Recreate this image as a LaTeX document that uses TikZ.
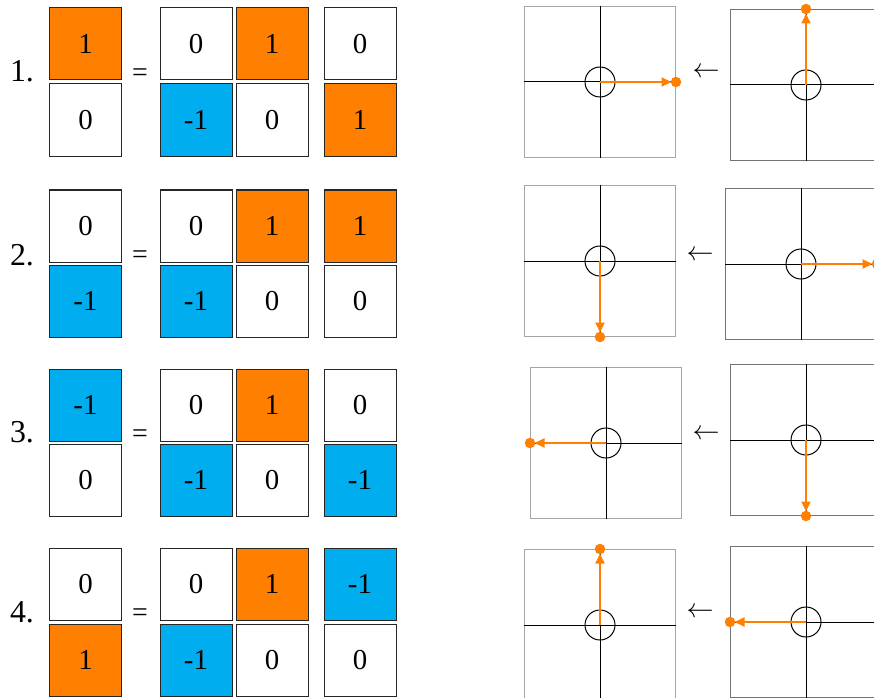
\documentclass[tikz,border=0pt]{standalone}
\usepackage{fontspec}
\setmainfont{Liberation Serif}
\usetikzlibrary{arrows.meta}
\definecolor{cellorange}{RGB}{255,128,0}
\definecolor{cellblue}{RGB}{0,174,239}
\tikzset{every picture/.style={line width=1bp}}
\newcommand{\backarrow}{\resizebox{27bp}{!}{$\leftarrow$}}
\begin{document}
\begin{tikzpicture}[x=1bp,y=1bp,yscale=-1,xscale=1,
	cell/.style={draw=black!85, minimum size=72bp, inner sep=0pt, font=\fontsize{29}{29}\selectfont},
	ones/.style={cell, fill=cellorange},
	mones/.style={cell, fill=cellblue},
	rowlabel/.style={inner sep=0pt, font=\fontsize{32}{32}\selectfont},
	eqsign/.style={inner sep=0pt, anchor=base, font=\fontsize{28}{28}\selectfont},
	back/.style={inner sep=0pt},
	panel/.style={draw=black!35, minimum size=151bp, inner sep=0pt},
	panelr/.style={panel, draw=black!55},
	hub/.style={circle, draw=black, minimum size=30bp, inner sep=0pt},
	tipdot/.style={circle, fill=cellorange, minimum size=10.5bp, inner sep=0pt},
	vec/.style={draw=cellorange, line width=2bp, -{Triangle[length=10bp,width=9bp]}, shorten >=4.5bp}]
	\useasboundingbox (0,0) rectangle (874,698);
	\clip (0,0) rectangle (874,698);

	%Row 1
	\node [rowlabel] (n1) at (22,71) {1.};
	\node [ones] (l1t) at (85.5,44) {1};
	\node [cell] (l1b) at (85.5,120) {0};
	\node [eqsign] (eq1) at (140,82) {=};
	\node [cell] (m1a) at (196,44) {0};
	\node [ones] (m1b) at (272,44) {1};
	\node [mones] (m1c) at (196,120) {-1};
	\node [cell] (m1d) at (272,120) {0};
	\node [cell] (r1t) at (360,44) {0};
	\node [ones] (r1b) at (360,120) {1};

	%Row 2
	\node [rowlabel] (n2) at (22,255) {2.};
	\node [cell] (l2t) at (85.5,226) {0};
	\node [mones] (l2b) at (85.5,301) {-1};
	\node [eqsign] (eq2) at (140,263) {=};
	\node [cell] (m2a) at (196,226) {0};
	\node [ones] (m2b) at (272,226) {1};
	\node [mones] (m2c) at (196,301) {-1};
	\node [cell] (m2d) at (272,301) {0};
	\node [ones] (r2t) at (360,226) {1};
	\node [cell] (r2b) at (360,301) {0};

	%Row 3
	\node [rowlabel] (n3) at (22,432) {3.};
	\node [mones] (l3t) at (85.5,405) {-1};
	\node [cell] (l3b) at (85.5,480) {0};
	\node [eqsign] (eq3) at (140,442) {=};
	\node [cell] (m3a) at (196,405) {0};
	\node [ones] (m3b) at (272,405) {1};
	\node [mones] (m3c) at (196,480) {-1};
	\node [cell] (m3d) at (272,480) {0};
	\node [cell] (r3t) at (360,405) {0};
	\node [mones] (r3b) at (360,480) {-1};

	%Row 4
	\node [rowlabel] (n4) at (22,612) {4.};
	\node [cell] (l4t) at (85.5,584) {0};
	\node [ones] (l4b) at (85.5,660) {1};
	\node [eqsign] (eq4) at (140,621) {=};
	\node [cell] (m4a) at (196,584) {0};
	\node [ones] (m4b) at (272,584) {1};
	\node [mones] (m4c) at (196,660) {-1};
	\node [cell] (m4d) at (272,660) {0};
	\node [mones] (r4t) at (360,584) {-1};
	\node [cell] (r4b) at (360,660) {0};

	%Panels 1
	\node [panel] (pL1) at (600,82) {};
	\draw (pL1.north) -- (pL1.south);
	\draw (pL1.west) -- (pL1.east);
	\node [hub] (hL1) at (pL1.center) {};
	\node [tipdot] (dL1) at (pL1.east) {};
	\draw [vec] (hL1.center) -- (dL1.center);
	\node [back] (b1) at (706,73) {\backarrow};
	\node [panelr] (pR1) at (806,85) {};
	\draw (pR1.north) -- (pR1.south);
	\draw (pR1.west) -- (pR1.east);
	\node [hub] (hR1) at (pR1.center) {};
	\node [tipdot] (dR1) at (pR1.north) {};
	\draw [vec] (hR1.center) -- (dR1.center);

	%Panels 2
	\node [panel] (pL2) at (600,261) {};
	\draw (pL2.north) -- (pL2.south);
	\draw (pL2.west) -- (pL2.east);
	\node [hub] (hL2) at (pL2.center) {};
	\node [tipdot] (dL2) at (pL2.south) {};
	\draw [vec] (hL2.center) -- (dL2.center);
	\node [back] (b2) at (700,256) {\backarrow};
	\node [panelr] (pR2) at (801,264) {};
	\draw (pR2.north) -- (pR2.south);
	\draw (pR2.west) -- (pR2.east);
	\node [hub] (hR2) at (pR2.center) {};
	\node [tipdot] (dR2) at (pR2.east) {};
	\draw [vec] (hR2.center) -- (dR2.center);

	%Panels 3
	\node [panel] (pL3) at (606,443) {};
	\draw (pL3.north) -- (pL3.south);
	\draw (pL3.west) -- (pL3.east);
	\node [hub] (hL3) at (pL3.center) {};
	\node [tipdot] (dL3) at (pL3.west) {};
	\draw [vec] (hL3.center) -- (dL3.center);
	\node [back] (b3) at (706,435) {\backarrow};
	\node [panelr] (pR3) at (806,440) {};
	\draw (pR3.north) -- (pR3.south);
	\draw (pR3.west) -- (pR3.east);
	\node [hub] (hR3) at (pR3.center) {};
	\node [tipdot] (dR3) at (pR3.south) {};
	\draw [vec] (hR3.center) -- (dR3.center);

	%Panels 4
	\node [panel] (pL4) at (600,625) {};
	\draw (pL4.north) -- (pL4.south);
	\draw (pL4.west) -- (pL4.east);
	\node [hub] (hL4) at (pL4.center) {};
	\node [tipdot] (dL4) at (pL4.north) {};
	\draw [vec] (hL4.center) -- (dL4.center);
	\node [back] (b4) at (700,613) {\backarrow};
	\node [panelr] (pR4) at (806,622) {};
	\draw (pR4.north) -- (pR4.south);
	\draw (pR4.west) -- (pR4.east);
	\node [hub] (hR4) at (pR4.center) {};
	\node [tipdot] (dR4) at (pR4.west) {};
	\draw [vec] (hR4.center) -- (dR4.center);
\end{tikzpicture}
\end{document}
